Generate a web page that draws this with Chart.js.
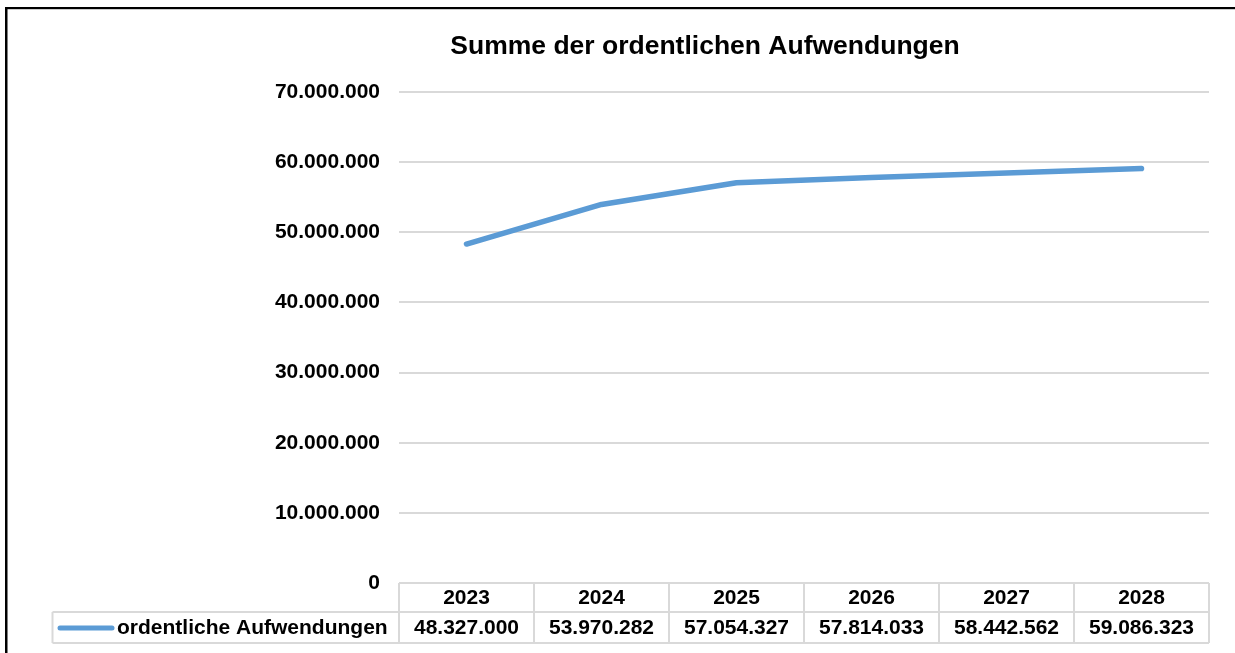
<!DOCTYPE html>
<html>
<head>
<meta charset="utf-8">
<script src="https://cdn.jsdelivr.net/npm/chart.js@4.4.1/dist/chart.umd.min.js"></script>
<style>
  html, body { margin: 0; padding: 0; background: #ffffff; overflow: hidden; }
  #wrap { position: relative; width: 1235px; height: 653px; overflow: hidden; }
  canvas { display: block; }
</style>
</head>
<body>
<div id="wrap"><canvas id="c" width="1235" height="653"></canvas></div>
<script>
const titleText = 'Summe der ordentlichen Aufwendungen';
const seriesName = 'ordentliche Aufwendungen';
const years = ['2023', '2024', '2025', '2026', '2027', '2028'];
const values = [48327000, 53970282, 57054327, 57814033, 58442562, 59086323];
const yTicks = [0, 10000000, 20000000, 30000000, 40000000, 50000000, 60000000, 70000000];

const FONT = "'Liberation Sans', Arial, Helvetica, sans-serif";
const LINE_COLOR = '#5B9BD5';
const GRID_COLOR = '#d9d9d9';

function fmtDE(n) {
  return String(Math.round(n)).replace(/\B(?=(\d{3})+(?!\d))/g, '.');
}

const decorPlugin = {
  id: 'decor',
  beforeDraw(chart) {
    const ctx = chart.ctx;
    ctx.save();
    ctx.fillStyle = '#ffffff';
    ctx.fillRect(0, 0, chart.width, chart.height);
    // outer frame (only left and top edges are visible in the view)
    ctx.fillStyle = '#000000';
    ctx.fillRect(5, 7, 2.5, chart.height - 7);
    ctx.fillRect(5, 7, chart.width - 5, 2.2);
    ctx.restore();
  },
  afterDraw(chart) {
    const ctx = chart.ctx;
    const xs = chart.scales.x;
    const area = chart.chartArea;
    ctx.save();
    // title
    ctx.fillStyle = '#000000';
    ctx.font = 'bold 26.5px ' + FONT;
    ctx.textAlign = 'center';
    ctx.textBaseline = 'middle';
    ctx.fillText(titleText, 705, 47);

    // data table
    const top = area.bottom;
    const mid = top + 29;
    const bot = top + 60;
    const legendLeft = 52.5;
    const step = xs.getPixelForValue(1) - xs.getPixelForValue(0);
    const left = area.left;
    const right = area.right;
    ctx.strokeStyle = GRID_COLOR;
    ctx.lineWidth = 2;
    ctx.beginPath();
    ctx.moveTo(left, top); ctx.lineTo(right, top);
    ctx.moveTo(legendLeft, mid); ctx.lineTo(right, mid);
    ctx.moveTo(legendLeft, bot); ctx.lineTo(right, bot);
    ctx.moveTo(legendLeft, mid); ctx.lineTo(legendLeft, bot);
    for (let i = 0; i <= years.length; i++) {
      const x = xs.getPixelForValue(0) - step / 2 + i * step;
      ctx.moveTo(x, top); ctx.lineTo(x, bot);
    }
    ctx.stroke();

    ctx.fillStyle = '#000000';
    ctx.font = 'bold 21px ' + FONT;
    ctx.textAlign = 'center';
    ctx.textBaseline = 'middle';
    for (let i = 0; i < years.length; i++) {
      const x = xs.getPixelForValue(i);
      ctx.fillText(years[i], x, (top + mid) / 2 + 1);
      ctx.fillText(fmtDE(values[i]), x, (mid + bot) / 2 + 1);
    }
    // legend key
    ctx.strokeStyle = LINE_COLOR;
    ctx.lineWidth = 5;
    ctx.lineCap = 'round';
    ctx.beginPath();
    ctx.moveTo(60, (mid + bot) / 2 + 0.5);
    ctx.lineTo(112, (mid + bot) / 2 + 0.5);
    ctx.stroke();
    ctx.textAlign = 'left';
    ctx.fillText(seriesName, 117, (mid + bot) / 2 + 1);
    ctx.restore();
  }
};

new Chart(document.getElementById('c'), {
  type: 'line',
  data: {
    labels: years,
    datasets: [{
      label: seriesName,
      data: values,
      borderColor: LINE_COLOR,
      backgroundColor: LINE_COLOR,
      borderWidth: 5.5,
      pointRadius: 0,
      pointHoverRadius: 0,
      tension: 0,
      borderCapStyle: 'round',
      borderJoinStyle: 'round',
      fill: false
    }]
  },
  options: {
    responsive: false,
    animation: false,
    devicePixelRatio: 1,
    layout: { padding: { left: 0, top: 92, right: 26, bottom: 70 } },
    plugins: {
      legend: { display: false },
      title: { display: false },
      tooltip: { enabled: false }
    },
    scales: {
      x: {
        type: 'category',
        display: false,
        offset: true
      },
      y: {
        min: 0,
        max: 70000000,
        afterBuildTicks(scale) {
          scale.ticks = yTicks.map(v => ({ value: v }));
        },
        afterFit(scale) { scale.width = 399; },
        border: { display: false },
        grid: {
          color: GRID_COLOR,
          lineWidth: 2,
          drawTicks: false
        },
        ticks: {
          padding: 19,
          color: '#000000',
          font: { family: FONT, size: 21, weight: 'bold' },
          callback: (v) => fmtDE(v)
        }
      }
    }
  },
  plugins: [decorPlugin]
});
</script>
</body>
</html>
